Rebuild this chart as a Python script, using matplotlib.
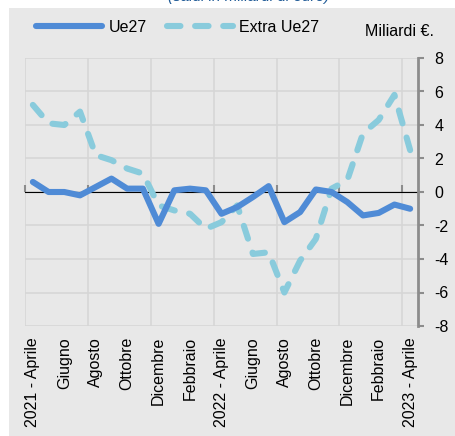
import matplotlib.pyplot as plt
from matplotlib.patches import Rectangle

plt.rcParams['font.family'] = ['Liberation Sans', 'DejaVu Sans']

# valori mensili, aprile 2021 - aprile 2023 (miliardi di euro)
ue27 = [0.6, 0.0, 0.0, -0.2, 0.3, 0.8, 0.2, 0.2, -1.9, 0.1, 0.2, 0.1, -1.3,
        -0.9, -0.3, 0.35, -1.8, -1.2, 0.15, 0.0, -0.6, -1.4, -1.25, -0.75, -1.0]
extra_ue27 = [5.2, 4.1, 4.0, 4.8, 2.2, 1.9, 1.4, 1.1, -0.8, -1.1, -1.3, -2.2, -1.8,
              -0.8, -3.7, -3.6, -6.0, -4.1, -2.8, 0.2, 0.7, 3.5, 4.3, 5.8, 2.5]
etichette = ['2021 - Aprile', 'Giugno', 'Agosto', 'Ottobre', 'Dicembre', 'Febbraio',
             '2022 - Aprile', 'Giugno', 'Agosto', 'Ottobre', 'Dicembre', 'Febbraio',
             '2023 - Aprile']
y_ticks = [-8, -6, -4, -2, 0, 2, 4, 6, 8]

grigio_fondo = '#E8E8E8'
grigio_asse = '#8C8C8C'
grigio_griglia = '#D6D6D6'
blu = '#4F8BD6'
azzurro = '#89CBDC'

fig = plt.figure(figsize=(4.56, 4.36), dpi=100)
fig.patch.set_facecolor('white')
fig.patches.append(Rectangle((9 / 456, 0), 1, 1 - 8 / 436, transform=fig.transFigure,
                             facecolor=grigio_fondo, edgecolor='none', zorder=-10))

# titolo tagliato in alto (come nell'originale)
fig.text(0.545, 1 - 1.5 / 436, '(saldi in miliardi di euro)', ha='center', va='baseline',
         color='#1F5A96', fontsize=11, style='italic')

ax = fig.add_axes([25 / 456, 1 - 326 / 436, 393 / 456, 268 / 436])
ax.set_facecolor(grigio_fondo)

x = list(range(len(ue27)))
l1, = ax.plot(x, ue27, color=blu, lw=4.4, solid_capstyle='round',
              solid_joinstyle='round', label='Ue27', zorder=4)
l2, = ax.plot(x, extra_ue27, color=azzurro, lw=4.4, linestyle=(0, (2.2, 2.4)),
              dash_capstyle='round', label='Extra Ue27', zorder=3)

ax.set_xlim(-0.5, len(ue27) - 0.5)
ax.set_ylim(-8, 8)

ax.set_xticks(x[::2])
ax.set_xticklabels(etichette, rotation=90, fontsize=11.5)
ax.set_xticks([i - 0.5 for i in range(0, len(ue27), 4)], minor=True)
ax.tick_params(axis='x', which='both', length=0, pad=8)
ax.grid(True, axis='x', which='minor', color=grigio_griglia, lw=1.2)

ax.yaxis.tick_right()
ax.set_yticks(y_ticks)
ax.set_yticklabels([str(v) for v in y_ticks])
ax.tick_params(axis='y', length=4, width=1.5, color=grigio_asse, labelsize=11.5, pad=8)
ax.grid(True, axis='y', which='major', color=grigio_griglia, lw=1.2)
ax.set_axisbelow(True)

for s in ['left', 'top', 'bottom']:
    ax.spines[s].set_visible(False)
ax.spines['right'].set_color(grigio_asse)
ax.spines['right'].set_linewidth(2)

# asse dello zero con tacche
sec = ax.secondary_xaxis(0.5)
sec.set_xticks([i - 0.5 for i in range(0, len(ue27), 4)])
sec.set_xticklabels([])
sec.tick_params(length=5, width=1.5, color=grigio_asse, direction='out')
sec.spines['bottom'].set_color(grigio_asse)
sec.spines['bottom'].set_linewidth(2)
sec.set_zorder(2)

fig.legend(handles=[l1, l2], loc='center left', bbox_to_anchor=(30 / 456, 1 - 27 / 436),
           ncol=2, frameon=False, fontsize=11.5, handlelength=4.1, handletextpad=0.4,
           columnspacing=1.3, borderaxespad=0)
fig.text(365 / 456, 1 - 32 / 436, 'Miliardi €.', ha='left', va='center', fontsize=11.5)

fig.savefig('out.png', dpi=100, facecolor='white')
